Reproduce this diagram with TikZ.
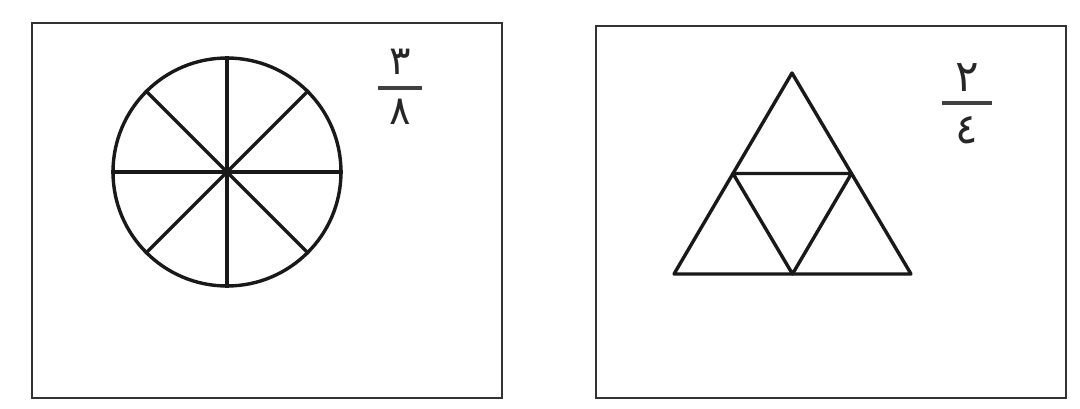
\documentclass[tikz,border=0pt]{standalone}
\usepackage{fontspec}
\usetikzlibrary{calc}
\newfontfamily\arabicfont[Script=Arabic]{DejaVu Sans}
\TeXXeTstate=1
\begin{document}
\begin{tikzpicture}[x=1pt,y=-1pt,
  frame/.style={draw=black!80,line width=2.4pt},
  figline/.style={draw=black!90,line width=3.4pt,line join=round},
  digit/.style={inner sep=0pt,anchor=center,text=black!85},
  fracbar/.style={draw=black!75,line width=3.6pt}]
\useasboundingbox (0,0) rectangle (1080,408);
% frames
\draw[frame] (32,23) rectangle (502,398);
\draw[frame] (596,26) rectangle (1066,398);
% circle
\node[figline,circle,minimum size=228pt,inner sep=0pt] (c) at (227,172) {};
\draw[figline] (c.0) -- (c.180);
\draw[figline] (c.90) -- (c.270);
\draw[figline] (c.45) -- (c.225);
\draw[figline] (c.135) -- (c.315);
% fraction 3/8
\node[digit,font=\arabicfont\fontsize{40}{40}\selectfont] (n1) at (400,62) {\beginR ٣\endR};
\node[digit,font=\arabicfont\fontsize{40}{40}\selectfont] (d1) at (400,112) {\beginR ٨\endR};
\coordinate (b1l) at (378,88);
\coordinate (b1r) at (422,88);
\draw[fracbar] (b1l) -- (b1r);
% triangle
\coordinate (A) at (792,73);
\coordinate (B) at (674,274);
\coordinate (C) at (911,274);
\coordinate (AB) at ($(A)!0.5!(B)$);
\coordinate (AC) at ($(A)!0.5!(C)$);
\coordinate (BC) at ($(B)!0.5!(C)$);
\draw[figline] (A) -- (B) -- (C) -- cycle;
\draw[figline] (AB) -- (AC) -- (BC) -- cycle;
% fraction 2/4
\node[digit,font=\arabicfont\fontsize{44}{44}\selectfont] (n2) at (967,78) {\beginR ٢\endR};
\node[digit,font=\arabicfont\fontsize{42}{42}\selectfont] (d2) at (967,130) {\beginR ٤\endR};
\coordinate (b2l) at (942,103);
\coordinate (b2r) at (992,103);
\draw[fracbar] (b2l) -- (b2r);
\end{tikzpicture}
\end{document}
